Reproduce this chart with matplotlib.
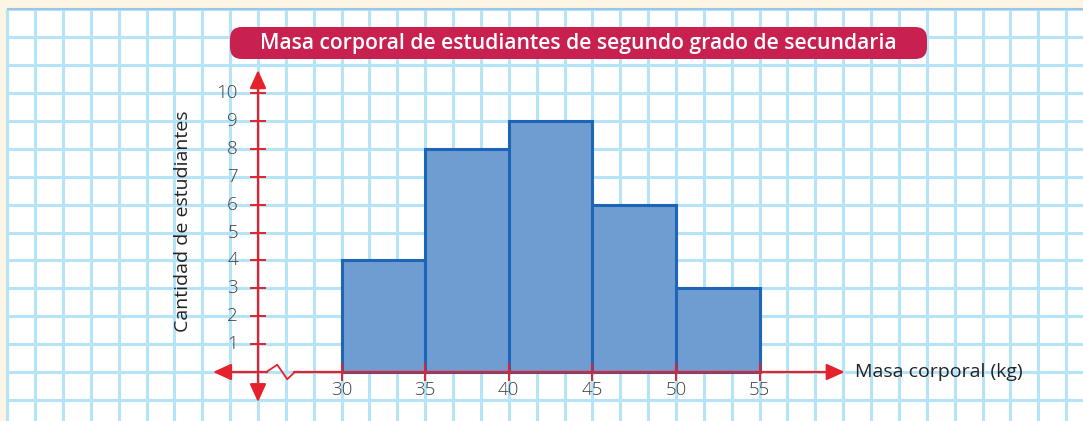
import numpy as np
import matplotlib
matplotlib.use("Agg")
import matplotlib.pyplot as plt
from matplotlib.patches import Rectangle, FancyBboxPatch

# datos del histograma
bordes = [30, 35, 40, 45, 50, 55]
frecuencias = [4, 8, 9, 6, 3]
yticks = list(range(1, 11))
titulo = "Masa corporal de estudiantes de segundo grado de secundaria"
xlabel = "Masa corporal (kg)"
ylabel = "Cantidad de estudiantes"

# escala en pixeles (imagen 1083x421)
W, H = 1083, 421
ox, oy = 258, 372          # pixel del origen (25, 0)
px_kg, px_u = 16.72, 27.9  # pixeles por kg y por estudiante
x_orig = 25

rojo = "#e5222b"
gris = "#404040"
azul_grid = "#b5e3f8"

plt.rcParams['font.family'] = ['Open Sans', 'DejaVu Sans']

fig = plt.figure(figsize=(W / 100, H / 100), dpi=100)
fig.patch.set_facecolor("#fdf5e4")
ax = fig.add_axes([0, 0, 1, 1])
ax.set_xlim(x_orig - ox / px_kg, x_orig + (W - ox) / px_kg)
ax.set_ylim(-(H - oy) / px_u, oy / px_u)
ax.axis("off")

# hoja cuadriculada
ax.add_patch(Rectangle((10, -5), 80, 18, facecolor="white", edgecolor="none", zorder=0))
gx = x_orig + np.arange(-9, 32) * (5 / 3)
ax.vlines(gx, -5, 13, color=azul_grid, lw=2.2, zorder=1)
ax.hlines(np.arange(-3, 14), 10, 90, color=azul_grid, lw=2.2, zorder=1)
ax.hlines(13, 10, 90, color="#9cc6e8", lw=1.5, zorder=1)

# barras
ax.bar(bordes[:-1], frecuencias, width=5, align="edge", color="#6f9dd1",
       edgecolor="#1e65b7", linewidth=2.2, zorder=2)

# ejes rojos
arrow = dict(arrowstyle="-|>,head_length=11,head_width=5", mutation_scale=1,
             color=rojo, lw=1.6, shrinkA=0, shrinkB=0)
ax.annotate("", xy=(x_orig, 10.82), xytext=(x_orig, 0), arrowprops=arrow, zorder=4)
ax.annotate("", xy=(x_orig, -1.08), xytext=(x_orig, 0), arrowprops=arrow, zorder=4)
ax.annotate("", xy=(22.31, 0), xytext=(25.55, 0), arrowprops=arrow, zorder=4)
ax.annotate("", xy=(60.09, 0), xytext=(27.15, 0), arrowprops=arrow, zorder=4)
# corte del eje (zigzag)
ax.plot([25.5, 26.15, 26.75, 27.2], [0, 0.26, -0.26, 0], color=rojo, lw=1.3, zorder=4)

# marcas
ax.hlines(yticks, x_orig - 0.48, x_orig + 0.48, color=rojo, lw=1.4, zorder=4)
ax.vlines(bordes, -0.32, 0.32, color=rojo, lw=1.4, zorder=4)
for v in yticks:
    ax.text(23.8, v, str(v), ha="right", va="center", fontsize=13.5,
            color=gris, fontweight="light", zorder=5)
for b in bordes:
    ax.text(b, -0.66, str(b), ha="center", va="center", fontsize=13.5,
            color=gris, fontweight="light", zorder=5)

ax.text(60.7, 0, xlabel, ha="left", va="center", fontsize=14, color="#222222", zorder=5)
ax.text(20.5, 5.41, ylabel, ha="center", va="center", rotation=90, fontsize=14,
        color="#222222", zorder=5)

# titulo
caja = FancyBboxPatch((230 / W, 1 - 59 / H), 697 / W, 32 / H,
                      boxstyle="round,pad=0,rounding_size=0.011",
                      mutation_aspect=W / H, transform=fig.transFigure,
                      facecolor="#c8214f", edgecolor="none", zorder=6)
ax.add_patch(caja)
fig.text(578 / W, 1 - 43.5 / H, titulo, ha="center", va="center", fontsize=15.2,
         fontweight="semibold", color="white", zorder=7)

fig.savefig("out.png", dpi=100, facecolor=fig.get_facecolor())
